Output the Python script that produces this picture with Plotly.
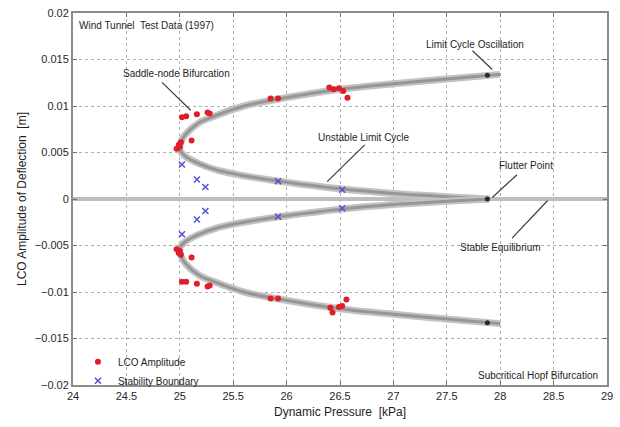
import plotly.graph_objects as go

# Bifurcation branch (positive amplitude side): from the flutter point along the
# unstable limit cycle to the saddle-node, then along the stable LCO branch.
branch_q = [27.90, 27.50, 27.00, 26.50, 26.00, 25.60, 25.35, 25.18, 25.05, 25.00,
            25.01, 25.05, 25.18, 25.30, 25.60, 25.90, 26.50, 27.00, 27.50, 28.00]
branch_a = [0.0000, 0.00025, 0.0006, 0.0011, 0.0018, 0.0025, 0.0031, 0.0038, 0.0046, 0.0053,
            0.0061, 0.0069, 0.0082, 0.0088, 0.0100, 0.0107, 0.0118, 0.0124, 0.0129, 0.0134]

# Wind tunnel LCO amplitude measurements
lco_q = [24.97, 24.99, 25.00, 25.01, 25.11, 25.02, 25.06, 25.16, 25.26, 25.28,
         25.85, 25.92, 26.40, 26.44, 26.49, 26.53, 26.57,
         24.97, 24.99, 25.00, 25.01, 25.11, 25.02, 25.06, 25.16, 25.26, 25.28,
         25.85, 25.92, 26.41, 26.43, 26.49, 26.52, 26.56]
lco_a = [0.0054, 0.0058, 0.0056, 0.0061, 0.0063, 0.0088, 0.0089, 0.0091, 0.0093, 0.0092,
         0.0108, 0.0108, 0.0120, 0.0118, 0.0119, 0.0116, 0.0109,
         -0.0054, -0.0058, -0.0056, -0.0060, -0.0063, -0.0089, -0.0089, -0.0091, -0.0094, -0.0093,
         -0.0107, -0.0107, -0.0117, -0.0122, -0.0116, -0.0115, -0.0108]

# Stability boundary measurements
sb_q = [25.02, 25.16, 25.24, 25.92, 26.52, 25.02, 25.16, 25.24, 25.92, 26.52]
sb_a = [0.0037, 0.0021, 0.0013, 0.0019, 0.0010, -0.0038, -0.0022, -0.0013, -0.0019, -0.0010]

# Predicted limit cycle oscillation and flutter point
pred_q = [27.88, 27.88, 27.88]
pred_a = [0.0133, 0.0, -0.0133]

x_ticks = [24, 24.5, 25, 25.5, 26, 26.5, 27, 27.5, 28, 28.5, 29]
y_ticks = [-0.02, -0.015, -0.01, -0.005, 0, 0.005, 0.01, 0.015, 0.02]

FONT = "Liberation Sans, Arial, sans-serif"

fig = go.Figure()

# Stable equilibrium line
fig.add_trace(go.Scatter(x=[24, 29], y=[0, 0], mode="lines",
                         line=dict(color="rgb(190,190,190)", width=4),
                         showlegend=False, hoverinfo="skip"))

for sign in (1, -1):
    ys = [sign * v for v in branch_a]
    fig.add_trace(go.Scatter(x=branch_q, y=ys, mode="lines", line_shape="spline",
                             line=dict(color="rgb(195,195,195)", width=7),
                             showlegend=False, hoverinfo="skip"))
    fig.add_trace(go.Scatter(x=branch_q, y=ys, mode="lines", line_shape="spline",
                             line=dict(color="rgb(150,150,150)", width=3),
                             showlegend=False, hoverinfo="skip"))

fig.add_trace(go.Scatter(x=pred_q, y=pred_a, mode="markers",
                         marker=dict(color="rgb(40,40,60)", size=5),
                         showlegend=False, hoverinfo="skip"))

fig.add_trace(go.Scatter(x=lco_q, y=lco_a, mode="markers", name="LCO Amplitude",
                         marker=dict(color="rgb(225,30,40)", size=6, symbol="circle")))
fig.add_trace(go.Scatter(x=sb_q, y=sb_a, mode="markers", name="Stability Boundary",
                         marker=dict(color="rgb(80,80,215)", size=6, symbol="x-thin",
                                     line=dict(color="rgb(80,80,215)", width=1.5))))

def note(text, x, y, xanchor="center"):
    fig.add_annotation(x=x, y=y, xref="paper", yref="paper", text=text, showarrow=False,
                       xanchor=xanchor, yanchor="middle",
                       font=dict(family=FONT, size=10, color="rgb(30,30,30)"))

def px(xp):
    return (xp - 73) / 540.0

def py(yp):
    return (385 - yp) / 375.0

note("Wind Tunnel  Test Data (1997)", px(77), py(23), xanchor="left")
note("Saddle-node Bifurcation", px(178), py(71))
note("Limit Cycle Oscillation", px(480), py(42))
note("Unstable Limit Cycle", px(367), py(136))
note("Flutter Point", px(531), py(164))
note("Stable Equilibrium", px(505), py(246))
note("Subcritical Hopf Bifurcation", px(606), py(375), xanchor="right")

leaders = [((163, 80), (192, 108)),
           ((477, 48), (497, 67)),
           ((368, 143), (330, 180)),
           ((522, 173), (497, 196)),
           ((517, 237), (553, 199))]
for (x0, y0), (x1, y1) in leaders:
    fig.add_shape(type="line", xref="paper", yref="paper",
                  x0=px(x0), y0=py(y0), x1=px(x1), y1=py(y1),
                  line=dict(color="rgb(60,60,70)", width=1.2))

axis_common = dict(showline=True, linecolor="rgb(140,140,140)", linewidth=2, mirror="ticks",
                   ticks="inside", ticklen=4, tickcolor="rgb(110,110,110)",
                   showgrid=True, gridcolor="rgb(175,175,175)", griddash="dot", gridwidth=1,
                   zeroline=False,
                   tickfont=dict(family=FONT, size=11, color="rgb(40,40,40)"))

fig.update_xaxes(range=[24, 29], tickvals=x_ticks, ticktext=[f"{v:g}" for v in x_ticks],
                 title=dict(text="Dynamic Pressure  [kPa]", standoff=6,
                            font=dict(family=FONT, size=12, color="rgb(30,30,30)")),
                 **axis_common)
fig.update_yaxes(range=[-0.02, 0.02], tickvals=y_ticks,
                 ticktext=[f"{v:g}".replace("-", "\u2212") for v in y_ticks],
                 title=dict(text="LCO Amplitude of Deflection  [m]", standoff=6,
                            font=dict(family=FONT, size=12, color="rgb(30,30,30)")),
                 **axis_common)

fig.update_layout(width=620, height=427,
                  margin=dict(l=73, r=7, t=10, b=42),
                  paper_bgcolor="white", plot_bgcolor="white",
                  hovermode=False,
                  legend=dict(x=px(78), y=py(347), xanchor="left", yanchor="top",
                              bgcolor="rgba(255,255,255,0)", borderwidth=0,
                              font=dict(family=FONT, size=10, color="rgb(30,30,30)"),
                              itemwidth=30, tracegroupgap=0))

fig.write_html("out.html")
